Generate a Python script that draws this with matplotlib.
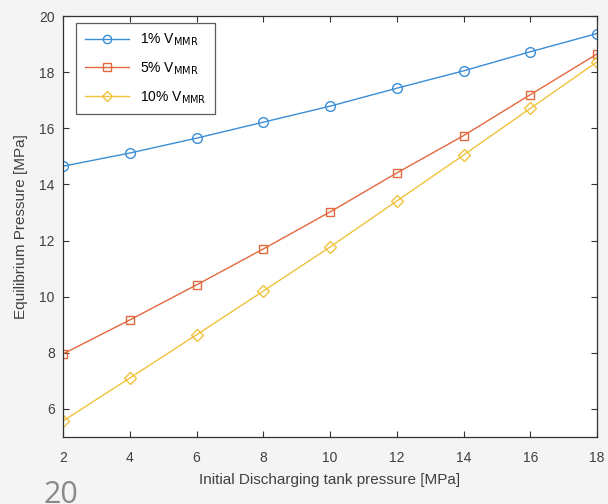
import matplotlib
matplotlib.use("Agg")
import matplotlib.pyplot as plt

# Initial discharging tank pressure [MPa]
tank_pressure = [2, 4, 6, 8, 10, 12, 14, 16, 18]

# Equilibrium pressure [MPa] for each MMR volume fraction
eq_1pct = [14.65, 15.12, 15.65, 16.22, 16.79, 17.43, 18.05, 18.73, 19.38]
eq_5pct = [7.96, 9.17, 10.42, 11.70, 13.02, 14.41, 15.74, 17.20, 18.65]
eq_10pct = [5.57, 7.10, 8.64, 10.20, 11.77, 13.41, 15.05, 16.71, 18.37]

series_labels = [r"1% V$_{\mathrm{MMR}}$", r"5% V$_{\mathrm{MMR}}$", r"10% V$_{\mathrm{MMR}}$"]
x_ticks = [2, 4, 6, 8, 10, 12, 14, 16, 18]
y_ticks = [6, 8, 10, 12, 14, 16, 18, 20]

plt.rcParams["font.family"] = ["Liberation Sans", "DejaVu Sans"]

fig = plt.figure(figsize=(6.08, 5.04), dpi=100)
fig.patch.set_facecolor("#f4f4f4")
ax = fig.add_axes([0.1036, 0.133, 0.8784, 0.835])
ax.set_facecolor("white")

ax.plot(tank_pressure, eq_1pct, color="#3a8ed6", marker="o", markersize=7,
        markerfacecolor="none", linewidth=1.0, label=series_labels[0])
ax.plot(tank_pressure, eq_5pct, color="#e4683e", marker="s", markersize=6,
        markerfacecolor="none", linewidth=1.0, label=series_labels[1])
ax.plot(tank_pressure, eq_10pct, color="#f0c23c", marker="D", markersize=6,
        markerfacecolor="none", linewidth=1.0, label=series_labels[2])

ax.set_xlim(2, 18)
ax.set_ylim(5, 20)
ax.set_xticks(x_ticks)
ax.set_yticks(y_ticks)
ax.tick_params(direction="in", top=True, right=True, length=4,
               labelsize=10, colors="#333333", labelcolor="#404040")
ax.tick_params(axis="x", pad=10)
ax.tick_params(axis="y", pad=6)
for sp in ax.spines.values():
    sp.set_color("#333333")
    sp.set_linewidth(0.9)

ax.set_xlabel("Initial Discharging tank pressure [MPa]", fontsize=11,
              color="#404040", labelpad=6)
ax.set_ylabel("Equilibrium Pressure [MPa]", fontsize=11, color="#404040",
              labelpad=8)

leg = ax.legend(loc="upper left", fontsize=10, frameon=True, fancybox=False,
                edgecolor="#333333", handlelength=3.2, borderpad=0.6,
                labelspacing=0.9, bbox_to_anchor=(0.012, 1.0), markerscale=0.85)
leg.get_frame().set_linewidth(0.9)

fig.text(0.072, -0.012, "20", fontsize=22, color="#8a8a8a", family="Open Sans",
         va="bottom")

fig.savefig("out.png", dpi=100, facecolor=fig.get_facecolor())
